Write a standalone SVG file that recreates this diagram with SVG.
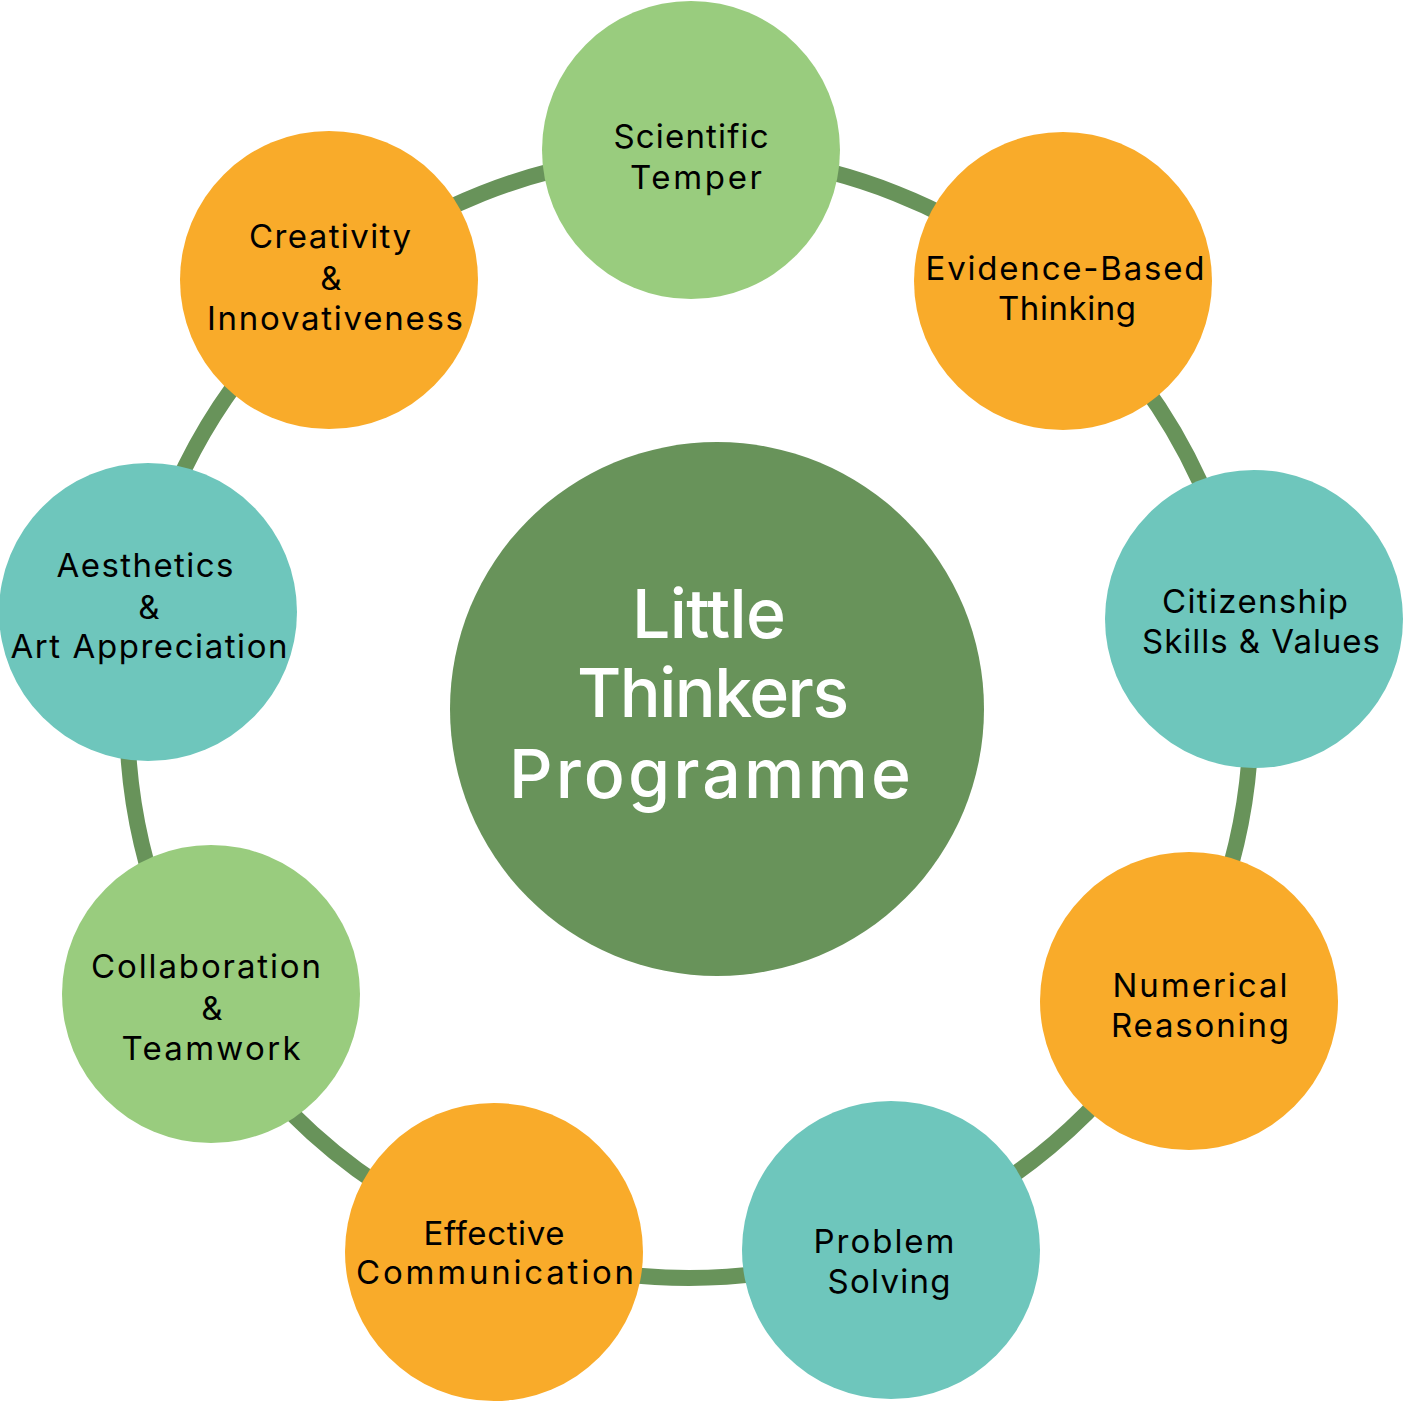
<svg xmlns="http://www.w3.org/2000/svg" width="1403" height="1403" viewBox="0 0 1403 1403">
<style>
.lbl{font-family:Inter,"Noto Sans","DejaVu Sans",sans-serif;font-size:33px;fill:#000;text-anchor:middle}
.ctr{font-family:Inter,"Noto Sans","DejaVu Sans",sans-serif;font-size:68px;font-weight:500;fill:#fff;text-anchor:middle}
.lg{fill:#99cc7e}.or{fill:#f9ab2a}.tl{fill:#6ec6bc}.dg{fill:#68935a}
</style>
<rect width="1403" height="1403" fill="#fff"/>
<g id="connectors">
<circle cx="689" cy="716" r="562" fill="none" stroke="#68935a" stroke-width="16"/>
</g>
<g id="center">
<circle class="dg" cx="717" cy="709" r="267"/>
<text class="ctr" x="709" y="638" textLength="154" lengthAdjust="spacing">Little</text>
<text class="ctr" x="713" y="717" textLength="272" lengthAdjust="spacing">Thinkers</text>
<text class="ctr" x="710" y="798" textLength="402" lengthAdjust="spacing">Programme</text>
</g>
<g id="scientific-temper">
<circle class="lg" cx="691" cy="150" r="149"/>
<text class="lbl" x="691" y="148" textLength="155" lengthAdjust="spacing">Scientific</text>
<text class="lbl" x="696" y="189" textLength="132" lengthAdjust="spacing">Temper</text>
</g>
<g id="evidence-based-thinking">
<circle class="or" cx="1063" cy="281" r="149"/>
<text class="lbl" x="1065" y="280" textLength="279" lengthAdjust="spacing">Evidence-Based</text>
<text class="lbl" x="1067" y="320" textLength="138" lengthAdjust="spacing">Thinking</text>
</g>
<g id="citizenship">
<circle class="tl" cx="1254" cy="619" r="149"/>
<text class="lbl" x="1255" y="613" textLength="186" lengthAdjust="spacing">Citizenship</text>
<text class="lbl" x="1261" y="653" textLength="238" lengthAdjust="spacing">Skills &amp; Values</text>
</g>
<g id="numerical-reasoning">
<circle class="or" cx="1189" cy="1001" r="149"/>
<text class="lbl" x="1200" y="997" textLength="175" lengthAdjust="spacing">Numerical</text>
<text class="lbl" x="1200" y="1037" textLength="178" lengthAdjust="spacing">Reasoning</text>
</g>
<g id="problem-solving">
<circle class="tl" cx="891" cy="1250" r="149"/>
<text class="lbl" x="884" y="1253" textLength="141" lengthAdjust="spacing">Problem</text>
<text class="lbl" x="889" y="1293" textLength="123" lengthAdjust="spacing">Solving</text>
</g>
<g id="effective-communication">
<circle class="or" cx="494" cy="1252" r="149"/>
<text class="lbl" x="494" y="1245" textLength="141" lengthAdjust="spacing">Effective</text>
<text class="lbl" x="495" y="1284" textLength="278" lengthAdjust="spacing">Communication</text>
</g>
<g id="collaboration-teamwork">
<circle class="lg" cx="211" cy="994" r="149"/>
<text class="lbl" x="206" y="978" textLength="230" lengthAdjust="spacing">Collaboration</text>
<text class="lbl" x="212" y="1020">&amp;</text>
<text class="lbl" x="211" y="1060" textLength="179" lengthAdjust="spacing">Teamwork</text>
</g>
<g id="aesthetics-art">
<circle class="tl" cx="148" cy="612" r="149"/>
<text class="lbl" x="145" y="577" textLength="177" lengthAdjust="spacing">Aesthetics</text>
<text class="lbl" x="149" y="619">&amp;</text>
<text class="lbl" x="149" y="658" textLength="277" lengthAdjust="spacing">Art Appreciation</text>
</g>
<g id="creativity-innovativeness">
<circle class="or" cx="329" cy="280" r="149"/>
<text class="lbl" x="330" y="248" textLength="162" lengthAdjust="spacing">Creativity</text>
<text class="lbl" x="331" y="290">&amp;</text>
<text class="lbl" x="335" y="330" textLength="256" lengthAdjust="spacing">Innovativeness</text>
</g>
</svg>
